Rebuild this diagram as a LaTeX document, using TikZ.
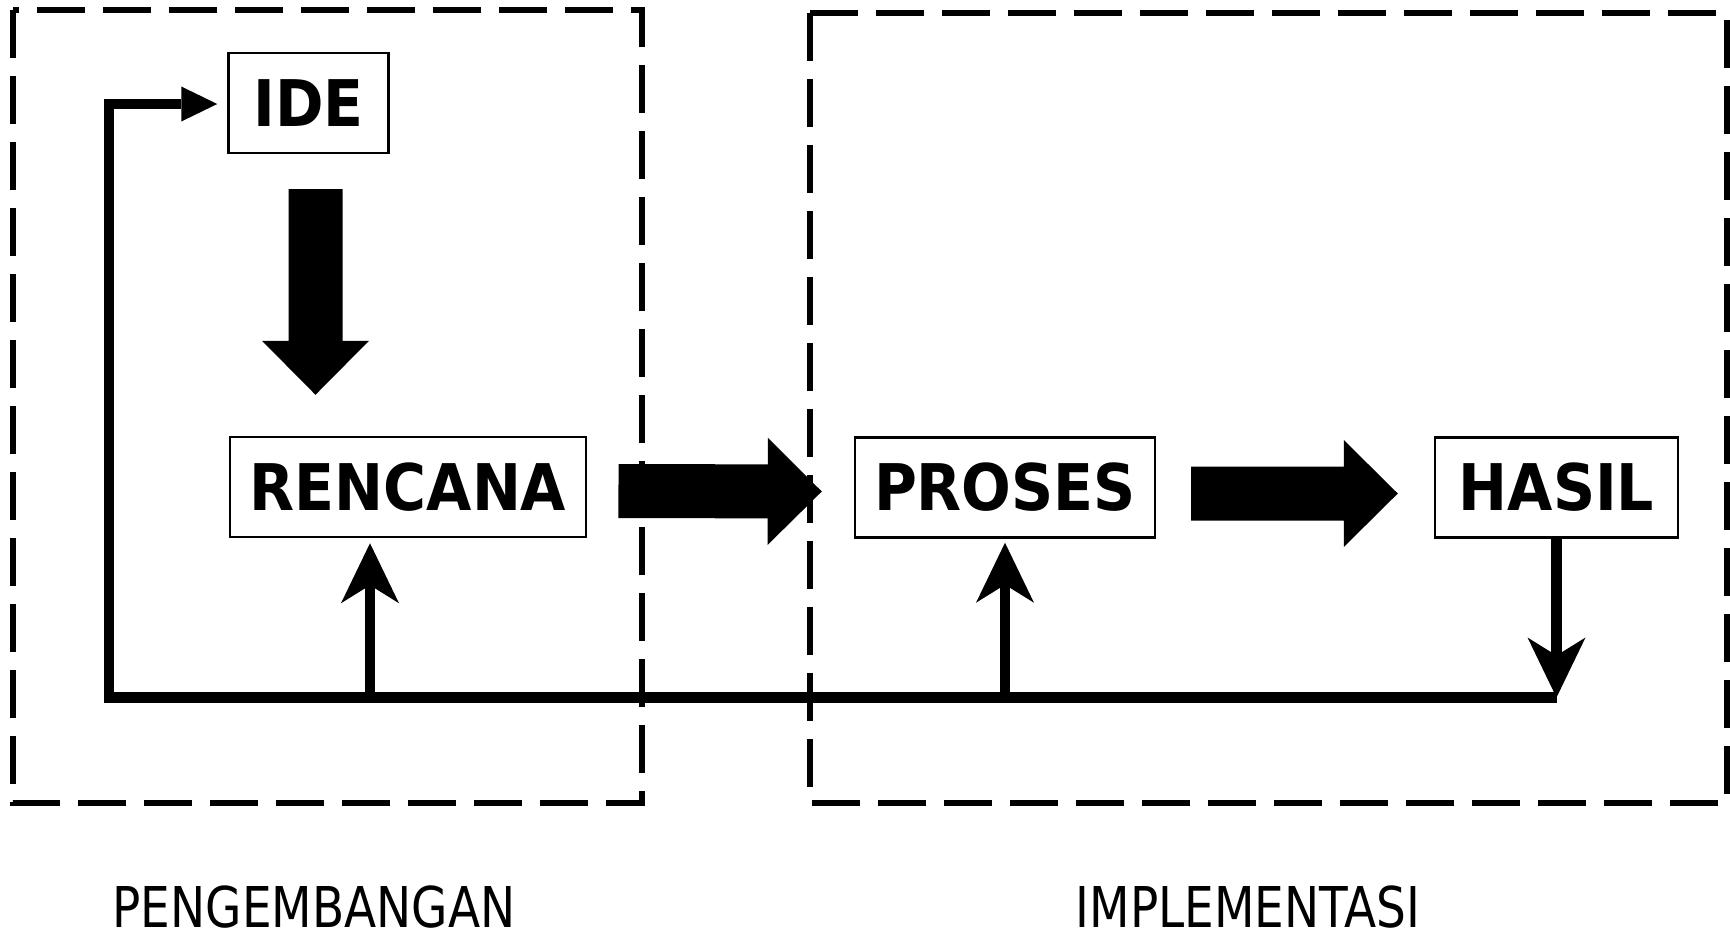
\documentclass[tikz,border=0pt]{standalone}
\usepackage{fontspec}
\usetikzlibrary{arrows.meta,calc}
\newfontfamily\boxfont{DejaVu Sans Bold}[FakeStretch=0.91]
\newfontfamily\labelfont{DejaVu Sans}[FakeStretch=0.835]
\tikzset{
  stepbox/.style={draw, line width=0.7pt, inner sep=0pt, minimum height=1cm,
    font=\boxfont\fontsize{18.3}{22}\selectfont},
  frame/.style={line width=0.06cm, dash pattern=on 0.48cm off 0.18cm},
  % filled block arrow from start to target
  bigarrow/.style={fill=black, to path={
    let \p1=($(\tikztotarget)!0.54cm!(\tikztostart)$) in
    ($(\tikztostart)!0.27cm!90:(\tikztotarget)$) -- ($(\p1)!0.27cm!-90:(\tikztostart)$)
    -- ($(\p1)!0.535cm!-90:(\tikztostart)$) -- (\tikztotarget)
    -- ($(\p1)!0.535cm!90:(\tikztostart)$) -- ($(\p1)!0.27cm!90:(\tikztostart)$)
    -- ($(\tikztostart)!0.27cm!-90:(\tikztotarget)$) -- cycle}},
  feedback/.style={line width=0.105cm},
  thinarrow/.style={feedback, -{Stealth[length=0.6cm, width=0.58cm, inset=0.18cm, line width=0pt]}},
  phase/.style={font=\labelfont\fontsize{16}{19}\selectfont, anchor=base, inner sep=0pt}
}

\begin{document}
\begin{tikzpicture}[x=0.1mm, y=-0.1mm]
  %%%%% START %%%%%
  \useasboundingbox (0,0) rectangle (1730,931);

  % the two phases
  \draw[frame] (13,10) rectangle (642,803);
  \draw[frame] (810,13) rectangle (1727,803);

  \node[stepbox, minimum width=1.6cm] (ide) at (308.5,103) {IDE};
  \node[stepbox, minimum width=3.565cm] (rencana) at (408,487) {RENCANA};
  \node[stepbox, minimum width=3.0cm] (proses) at (1005,487.5) {PROSES};
  \node[stepbox, minimum width=2.43cm] (hasil) at (1556.5,487.5) {HASIL};

  \node[phase] (pengembangan) at (314,927) {PENGEMBANGAN};
  \node[phase] (implementasi) at (1248,927) {IMPLEMENTASI};

  \coordinate (loopL) at (109,697.5);
  \coordinate (loopR) at (hasil.south |- loopL);
  \coordinate (upR) at (370,697.5);

  % main flow
  \path[bigarrow] ($(ide.south)+(7,35)$) to ($(rencana.north -| ide.south)+(7,-41)$);
  \path[bigarrow] ($(rencana.east)+(31,4)$) to ($(proses.west)+(-32,4)$);
  \path[bigarrow] ($(proses.east)+(35,6)$) to ($(hasil.west)+(-36,6)$);

  % feedback
  \draw[feedback, -{Triangle[length=0.36cm, width=0.35cm, line width=0pt]}] (loopR) -- (loopL) |- ($(ide.west)+(-10,1)$);
  \draw[thinarrow] (upR) -- ($(upR |- rencana.south)+(0,5)$);
  \draw[thinarrow] (proses.south |- loopL) -- ($(proses.south)+(0,4)$);
  \draw[thinarrow] (hasil.south) -- (loopR);

  %%%%% END %%%%%
\end{tikzpicture}
\end{document}
